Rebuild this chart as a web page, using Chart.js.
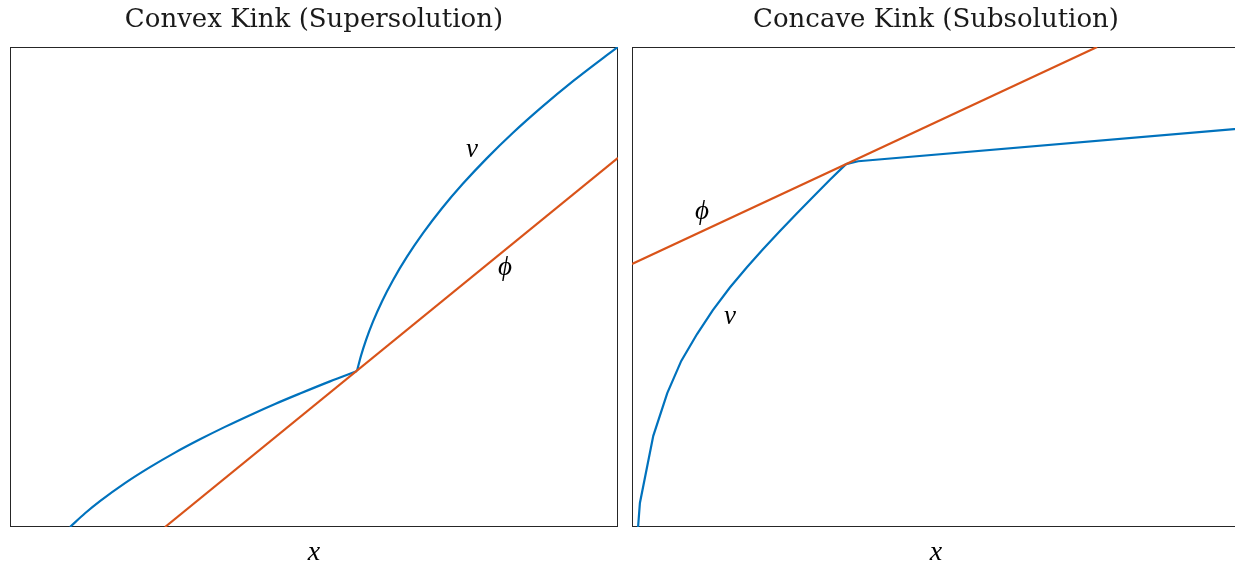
<!DOCTYPE html>
<html><head><meta charset="utf-8">
<script src="https://cdn.jsdelivr.net/npm/chart.js@4"></script>
<style>
html,body{margin:0;padding:0;background:#fff;overflow:hidden;width:1235px;height:564px;}
canvas{position:absolute;top:0;}
#c1{left:0;}
#c2{left:622px;}
</style></head><body>
<canvas id="c1" width="620" height="570"></canvas>
<canvas id="c2" width="630" height="570"></canvas>
<script>
// ---- texts ----
const panelTitles = ["Convex Kink (Supersolution)", "Concave Kink (Subsolution)"];
const xAxisTitle = "x";
const seriesNames = ["v", "\u03D5"];

// ---- left panel (convex kink) ----
const convexVLowerX = [0.987, 1.234, 1.480, 1.891, 2.303, 2.714, 3.125, 3.536, 3.947, 4.359, 4.770, 5.263, 5.707];
const convexVLowerY = [0.000, 0.286, 0.539, 0.914, 1.247, 1.550, 1.827, 2.086, 2.330, 2.563, 2.781, 3.034, 3.250];
const convexVUpperX = [5.707, 5.773, 5.855, 5.970, 6.118, 6.299, 6.530, 6.793, 7.105, 7.451, 7.845, 8.273, 8.750, 9.260, 9.737, 10.000];
const convexVUpperY = [3.250, 3.567, 3.894, 4.279, 4.700, 5.142, 5.631, 6.121, 6.640, 7.154, 7.685, 8.213, 8.752, 9.288, 9.754, 10.000];
const convexPhiX = [2.55, 10.00];
const convexPhiY = [0.00, 7.69];
const convexLabelX = [7.60, 8.14];   // v, phi
const convexLabelY = [7.85, 5.40];

// ---- right panel (concave kink) ----
const concaveVLeftX = [0.10, 0.13, 0.35, 0.58, 0.81, 1.07, 1.33, 1.61, 1.89, 2.15, 2.43, 2.71, 2.98, 3.26, 3.52];
const concaveVLeftY = [0.00, 0.50, 1.90, 2.79, 3.46, 4.02, 4.52, 4.99, 5.41, 5.78, 6.16, 6.53, 6.88, 7.24, 7.56];
const concaveVRightX = [3.52, 3.72, 10.00];
const concaveVRightY = [7.56, 7.62, 8.30];
const concavePhiX = [0.00, 7.65];
const concavePhiY = [5.48, 10.00];
const concaveLabelX = [1.61, 1.15];  // v, phi
const concaveLabelY = [4.38, 6.56];

const axisMin = 0, axisMax = 10;

const BLUE = '#0072BD', ORANGE = '#D95319', FRAME = '#262626';

function pts(xs, ys){ return xs.map((x,i)=>({x:x, y:ys[i]})); }

const framePlugin = {
  id:'frameAndLabels',
  beforeDatasetsDraw(chart){
    const {ctx, chartArea:a} = chart;
    ctx.save();
    ctx.strokeStyle = FRAME; ctx.lineWidth = 1;
    ctx.strokeRect(Math.round(a.left)+0.5, Math.round(a.top)+0.5, Math.round(a.right-a.left)-1, Math.round(a.bottom-a.top)-1);
    ctx.restore();
  },
  afterDatasetsDraw(chart, args, opts){
    const {ctx, scales} = chart;
    ctx.save();
    ctx.fillStyle = '#000';
    ctx.font = 'italic 27px "Liberation Serif"';
    ctx.textAlign = 'center'; ctx.textBaseline = 'middle';
    opts.xs.forEach((x,i)=>{
      ctx.fillText(seriesNames[i], scales.x.getPixelForValue(x), scales.y.getPixelForValue(opts.ys[i]));
    });
    ctx.restore();
  }
};

function makeChart(id, title, datasets, labelXs, labelYs, padRight){
  return new Chart(document.getElementById(id), {
    type:'line',
    data:{ datasets },
    options:{
      responsive:false, animation:false, devicePixelRatio:1,
      layout:{ padding:{ left:10, right:padRight, top:0, bottom:0 } },
      plugins:{
        legend:{display:false}, tooltip:{enabled:false},
        title:{ display:true, text:title, color:'#1a1a1a',
          font:{ family:'"DejaVu Serif"', size:26, weight:'normal', lineHeight:1.2 },
          padding:{ top:5, bottom:10.8 } },
        frameAndLabels:{ xs:labelXs, ys:labelYs }
      },
      elements:{ point:{ radius:0 }, line:{ borderWidth:2.2, tension:0 } },
      scales:{
        x:{ type:'linear', min:axisMin, max:axisMax,
          grid:{ display:false, drawTicks:false }, border:{ display:false },
          ticks:{ display:false },
          title:{ display:true, text:xAxisTitle, color:'#000',
            font:{ family:'"Liberation Serif"', size:28, style:'italic', lineHeight:1 },
            padding:{ top:12, bottom:3 } } },
        y:{ type:'linear', min:axisMin, max:axisMax, display:false }
      }
    },
    plugins:[framePlugin]
  });
}

makeChart('c1', panelTitles[0], [
  { data:pts(convexPhiX, convexPhiY), borderColor:ORANGE },
  { data:pts(convexVLowerX, convexVLowerY), borderColor:BLUE, cubicInterpolationMode:'monotone' },
  { data:pts(convexVUpperX, convexVUpperY), borderColor:BLUE, cubicInterpolationMode:'monotone' }
], convexLabelX, convexLabelY, 2);

makeChart('c2', panelTitles[1], [
  { data:pts(concavePhiX, concavePhiY), borderColor:ORANGE },
  { data:pts(concaveVLeftX, concaveVLeftY), borderColor:BLUE },
  { data:pts(concaveVRightX, concaveVRightY), borderColor:BLUE }
], concaveLabelX, concaveLabelY, 12);
</script>
</body></html>
